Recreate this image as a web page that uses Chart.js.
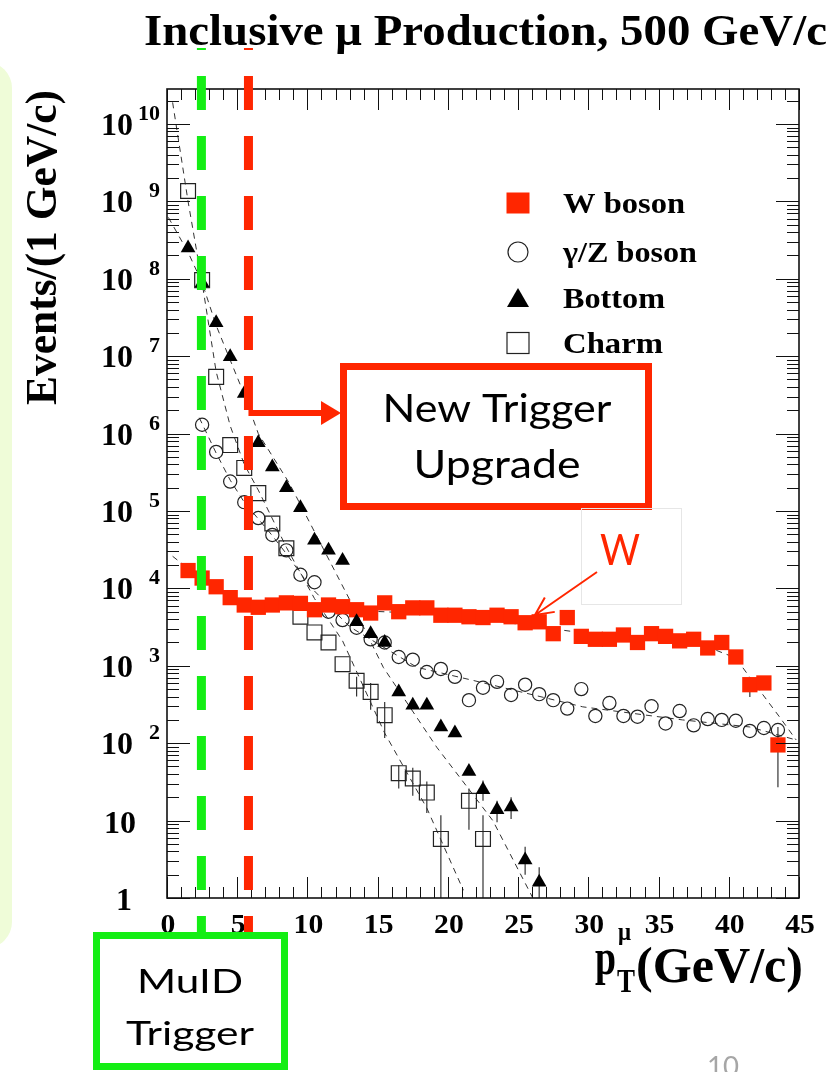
<!DOCTYPE html>
<html>
<head>
<meta charset="utf-8">
<script src="https://cdn.jsdelivr.net/npm/chart.js@4.4.1/dist/chart.umd.min.js"></script>
<style>
  html, body { margin: 0; padding: 0; background: #fff; }
  #wrap { width: 831px; height: 1072px; }
</style>
</head>
<body>
<div id="wrap"><canvas id="muChart" width="831" height="1072"></canvas></div>
<script>
// pT bin centres (GeV/c), 1 GeV bins
const ptBins = [1.5, 2.5, 3.5, 4.5, 5.5, 6.5, 7.5, 8.5, 9.5, 10.5,
                11.5, 12.5, 13.5, 14.5, 15.5, 16.5, 17.5, 18.5, 19.5, 20.5,
                21.5, 22.5, 23.5, 24.5, 25.5, 26.5, 27.5, 28.5, 29.5, 30.5,
                31.5, 32.5, 33.5, 34.5, 35.5, 36.5, 37.5, 38.5, 39.5, 40.5,
                41.5, 42.5, 43.5];

// events / (1 GeV/c)
const wBoson = [1.7e4, 1.36e4, 1.05e4, 7.6e3, 6.1e3, 5.7e3, 6.1e3, 6.5e3, 6.4e3, 5.3e3,
                6.1e3, 5.8e3, 5.3e3, 4.8e3, 6.5e3, 5.0e3, 5.6e3, 5.6e3, 4.5e3, 4.5e3,
                4.3e3, 4.2e3, 4.5e3, 4.3e3, 3.6e3, 3.7e3, 2.6e3, 4.2e3, 2.4e3, 2.2e3,
                2.2e3, 2.5e3, 2.0e3, 2.6e3, 2.4e3, 2.1e3, 2.2e3, 1.7e3, 2.0e3, 1.3e3,
                570, 600, 95];
const gzBoson = [null, 1.3e6, 5.8e5, 2.4e5, 1.3e5, 8.1e4, 4.9e4, 3.1e4, 1.5e4, 1.2e4,
                 5.0e3, 3.9e3, 3.1e3, 2.2e3, 2.0e3, 1.3e3, 1.2e3, 830, 910, 720,
                 360, 520, 620, 420, 570, 430, 360, 280, 500, 225,
                 330, 225, 220, 300, 180, 260, 170, 205, 200, 195,
                 144, 157, 148];
const bottom = [2.5e8, 8.9e7, 2.7e7, 9.8e6, 3.3e6, 7.6e5, 3.7e5, 2.0e5, 1.1e5, 4.2e4,
                3.1e4, 2.3e4, 3.7e3, 2.6e3, 2.0e3, 460, 310, 310, 162, 135,
                43, 25, 13.8, 15, 3.1, 1.6];
const charm = [1.36e9, 9.6e7, 5.4e6, 7.1e5, 3.6e5, 1.7e5, 6.9e4, 3.3e4, 4.3e3, 2.7e3,
               2.0e3, 1.05e3, 640, 460, 230, 41, 35, 23, 5.8, null,
               18, 5.8];

// error bars (only the visible ones)
const charmErrX  = [13.5, 14.5, 15.5, 16.5, 17.5, 18.5, 19.5, 21.5, 22.5];
const charmErrLo = [400, 270, 117, 26, 21, 12.5, 1, 7.6, 1];
const charmErrHi = [720, 600, 340, 52, 48, 32, 11.7, 26, 11.7];
const bottomErrX  = [22.5, 23.5, 24.5, 25.5, 26.5];
const bottomErrLo = [18, 9.5, 10.5, 2, 1];
const bottomErrHi = [33, 18, 20, 4.6, 2.5];
const wErrX  = [41.5, 43.5];
const wErrLo = [395, 27];
const wErrHi = [570, 162];

// dashed fit curves
const fitCharmX = [0.4, 1.5, 2.5, 3.5, 4.5, 5.5, 6.5, 8.5, 10.5, 12.5, 15.5, 18.5, 21.1];
const fitCharmY = [1.9e10, 1.0e9, 8.9e7, 6.3e6, 1.26e6, 4e5, 1.86e5, 3.4e4, 7.4e3, 2.1e3, 135, 14.5, 1.26];
const fitBottomX = [0.1, 1.5, 2.5, 3.5, 4.5, 5.5, 6.5, 8.7, 10.5, 13.5, 15.4, 19.2, 23.2, 26.05];
const fitBottomY = [6.2e8, 2.2e8, 8.9e7, 2.5e7, 8.9e6, 3.2e6, 1e6, 2.3e5, 5.4e4, 4.8e3, 955, 89, 10, 1];
const fitGzX = [2.3, 3.5, 4.5, 5.5, 6.5, 7.5, 8.5, 10.2, 13, 17.8, 21.6, 29.6, 36.7, 41.5, 44.8];
const fitGzY = [1.6e6, 5.6e5, 2.5e5, 1.3e5, 7.9e4, 4.8e4, 2.8e4, 1.05e4, 3.2e3, 955, 660, 295, 200, 162, 110];
const fitWX = [0.4, 2.5, 5.5, 10, 20, 30, 38, 40.5, 41.5, 43.6, 44.8];
const fitWY = [2.6e4, 1.3e4, 6.6e3, 5.5e3, 4.6e3, 2.6e3, 1.9e3, 1.26e3, 710, 220, 110];

// axis ticks
const xTickValues = [0, 5, 10, 15, 20, 25, 30, 35, 40, 45];
const yTickPowers = [0, 1, 2, 3, 4, 5, 6, 7, 8, 9, 10];

// trigger thresholds (GeV/c) drawn as dashed lines
const muidCut = 2.45;
const upgradeCut = 5.8;

const RED = '#ff2600';
const GREEN = '#14ee14';
const SERIF = '"Liberation Serif", "DejaVu Serif", serif';
const SANS = 'Lato, "Open Sans", sans-serif';

function toPoints(xs, ys) {
    return ys.map((y, i) => ({ x: xs[i], y: y })).filter(p => p.y != null);
}

// draw text squeezed/stretched to a given width
function fitText(ctx, text, x, y, width, align) {
    const w = ctx.measureText(text).width;
    ctx.save();
    ctx.translate(x, y);
    ctx.scale(width / w, 1);
    ctx.textAlign = align || 'left';
    ctx.fillText(text, 0, 0);
    ctx.restore();
}

function fitLine(label, xs, ys) {
    return {
        label: label, data: toPoints(xs, ys), showLine: true, pointRadius: 0,
        borderColor: '#333', borderWidth: 1, borderDash: [6, 5], order: 5
    };
}

// pale slide decoration on the left
const slideBackground = {
    id: 'slideBackground',
    beforeDraw(chart) {
        const ctx = chart.ctx;
        ctx.save();
        ctx.fillStyle = '#fff';
        ctx.fillRect(0, 0, chart.width, chart.height);
        ctx.fillStyle = '#effcd8';
        ctx.beginPath();
        ctx.roundRect(-40, 62, 52, 886, 30);
        ctx.fill();
        ctx.restore();
    }
};

// vertical error bars
const errorBars = {
    id: 'errorBars',
    beforeDatasetsDraw(chart) {
        const { ctx, scales: { x, y }, chartArea: a } = chart;
        ctx.save();
        ctx.beginPath();
        ctx.rect(a.left, a.top, a.right - a.left, a.bottom - a.top);
        ctx.clip();
        ctx.lineWidth = 1.2;
        const bars = (xs, lo, hi, color) => {
            ctx.strokeStyle = color;
            xs.forEach((v, i) => {
                const px = x.getPixelForValue(v);
                ctx.beginPath();
                ctx.moveTo(px, y.getPixelForValue(lo[i]));
                ctx.lineTo(px, y.getPixelForValue(hi[i]));
                ctx.stroke();
            });
        };
        bars(charmErrX, charmErrLo, charmErrHi, '#333');
        bars(bottomErrX, bottomErrLo, bottomErrHi, '#333');
        bars(wErrX, wErrLo, wErrHi, '#333');
        ctx.restore();
    }
};

// ROOT style frame with inward ticks on all four sides
const rootFrame = {
    id: 'rootFrame',
    afterDatasetsDraw(chart) {
        const { ctx, scales: { x, y }, chartArea: a } = chart;
        ctx.save();
        ctx.strokeStyle = '#111';
        ctx.lineWidth = 1;
        const seg = (x1, y1, x2, y2) => { ctx.beginPath(); ctx.moveTo(x1, y1); ctx.lineTo(x2, y2); ctx.stroke(); };

        for (let v = x.min; v <= x.max; v++) {
            const px = Math.round(x.getPixelForValue(v)) + 0.5;
            const len = v % 5 === 0 ? 21 : 11;
            seg(px, a.bottom, px, a.bottom - len);
            seg(px, a.top, px, a.top + len);
        }
        yTickPowers.forEach(p => {
            for (let m = 1; m <= 9; m++) {
                const v = m * Math.pow(10, p);
                if (v > y.max) break;
                const py = Math.round(y.getPixelForValue(v)) + 0.5;
                const len = m === 1 ? 23 : 12;
                seg(a.left, py, a.left + len, py);
                seg(a.right, py, a.right - len, py);
            }
        });
        ctx.lineWidth = 1.6;
        ctx.strokeRect(a.left, a.top, a.right - a.left, a.bottom - a.top);

        // tick labels
        ctx.fillStyle = '#000';
        xTickValues.forEach(v => {
            const t = String(v);
            ctx.font = 'bold 28px ' + SERIF;
            const w = ctx.measureText(t).width * 1.06;
            fitText(ctx, t, x.getPixelForValue(v) + 1, 933, w, 'center');
        });
        yTickPowers.forEach(p => {
            const py = y.getPixelForValue(Math.pow(10, p));
            ctx.font = 'bold 32px ' + SERIF;
            ctx.textAlign = 'right';
            if (p === 0) {
                ctx.fillText('1', 132, py + 12);
            } else if (p === 1) {
                ctx.fillText('10', 136, py + 12);
            } else {
                ctx.fillText('10', 133, py + 11);
                ctx.font = 'bold 22px ' + SERIF;
                ctx.fillText(String(p), 160, py - 4);
            }
        });
        ctx.restore();
    }
};

// titles, legend and slide annotations
const overlay = {
    id: 'overlay',
    afterDraw(chart) {
        const { ctx, scales: { x, y }, chartArea: a } = chart;
        const ds = chart.data.datasets;
        ctx.save();
        ctx.fillStyle = '#000';
        ctx.textBaseline = 'alphabetic';

        // title
        ctx.font = 'bold 45px ' + SERIF;
        fitText(ctx, 'Inclusive \u03bc Production, 500 GeV/c', 144, 45, 683, 'left');

        // y axis title
        ctx.save();
        ctx.translate(56, 405);
        ctx.rotate(-Math.PI / 2);
        ctx.font = 'bold 44px ' + SERIF;
        fitText(ctx, 'Events/(1 GeV/c)', 0, 0, 315, 'left');
        ctx.restore();

        // x axis title
        ctx.font = 'bold 50px ' + SERIF;
        fitText(ctx, 'p', 595, 974, 21, 'left');
        ctx.font = 'bold 25px ' + SERIF;
        fitText(ctx, '\u03bc', 618, 940, 13, 'left');
        ctx.font = 'bold 34px ' + SERIF;
        fitText(ctx, 'T', 617, 992, 18, 'left');
        ctx.font = 'bold 50px ' + SERIF;
        fitText(ctx, '(GeV/c)', 636, 982, 167, 'left');

        // legend
        const rows = [203, 252, 298, 343];
        const widths = [122, 134, 102, 100];
        const lx = 518;
        ctx.fillStyle = RED;
        ctx.fillRect(lx - 11.5, rows[0] - 10.5, 23, 21);
        ctx.strokeStyle = '#222';
        ctx.lineWidth = 1.2;
        ctx.beginPath();
        ctx.arc(lx, rows[1], 10, 0, Math.PI * 2);
        ctx.stroke();
        ctx.fillStyle = '#000';
        ctx.beginPath();
        ctx.moveTo(lx, rows[2] - 10);
        ctx.lineTo(lx + 11, rows[2] + 9);
        ctx.lineTo(lx - 11, rows[2] + 9);
        ctx.closePath();
        ctx.fill();
        ctx.strokeRect(lx - 11, rows[3] - 10.5, 22, 21);
        ctx.font = 'bold 30px ' + SERIF;
        for (let i = 0; i < 4; i++) {
            fitText(ctx, ds[i].label, 563, rows[i] + 10, widths[i], 'left');
        }

        // trigger threshold lines
        ctx.lineWidth = 9;
        ctx.setLineDash([34, 26]);
        ctx.lineDashOffset = 32;
        [[muidCut, GREEN], [upgradeCut, RED]].forEach(([v, c]) => {
            const px = x.getPixelForValue(v);
            ctx.strokeStyle = c;
            ctx.beginPath();
            ctx.moveTo(px, 48);
            ctx.lineTo(px, 935);
            ctx.stroke();
        });
        ctx.setLineDash([]);

        // arrow to the upgrade box
        const ux = x.getPixelForValue(upgradeCut);
        ctx.strokeStyle = RED;
        ctx.fillStyle = RED;
        ctx.lineWidth = 6;
        ctx.beginPath();
        ctx.moveTo(ux, 413);
        ctx.lineTo(324, 413);
        ctx.stroke();
        ctx.beginPath();
        ctx.moveTo(321, 401);
        ctx.lineTo(341, 413);
        ctx.lineTo(321, 425);
        ctx.closePath();
        ctx.fill();

        // "New Trigger Upgrade" box
        ctx.fillStyle = '#fff';
        ctx.fillRect(340, 363, 312, 147);
        ctx.lineWidth = 7;
        ctx.strokeRect(343.5, 366.5, 305, 140);
        ctx.fillStyle = '#000';
        ctx.font = '38px ' + SANS;
        fitText(ctx, 'New Trigger', 497, 422, 229, 'center');
        fitText(ctx, 'Upgrade', 497, 478, 167, 'center');

        // "W" label with faint frame and arrow
        ctx.strokeStyle = '#e6e6e6';
        ctx.lineWidth = 1;
        ctx.strokeRect(581.5, 508.5, 100, 96);
        ctx.fillStyle = RED;
        ctx.font = '42px ' + SANS;
        fitText(ctx, 'W', 620, 565, 40, 'center');
        ctx.strokeStyle = RED;
        ctx.lineWidth = 2;
        const tipX = 535, tipY = 615, sx = 597, sy = 572;
        const ang = Math.atan2(tipY - sy, tipX - sx);
        ctx.beginPath();
        ctx.moveTo(sx, sy);
        ctx.lineTo(tipX, tipY);
        ctx.moveTo(tipX - 20 * Math.cos(ang - 0.45), tipY - 20 * Math.sin(ang - 0.45));
        ctx.lineTo(tipX, tipY);
        ctx.lineTo(tipX - 20 * Math.cos(ang + 0.45), tipY - 20 * Math.sin(ang + 0.45));
        ctx.stroke();

        // "MuID Trigger" box
        ctx.fillStyle = '#fff';
        ctx.fillRect(93, 932, 195, 140);
        ctx.strokeStyle = GREEN;
        ctx.lineWidth = 7;
        ctx.strokeRect(96.5, 935.5, 188, 131);
        ctx.fillStyle = '#000';
        ctx.font = '33px ' + SANS;
        fitText(ctx, 'MuID', 190, 993, 106, 'center');
        fitText(ctx, 'Trigger', 190, 1045, 128, 'center');

        // slide number
        ctx.fillStyle = '#a6a6a6';
        ctx.font = '27px ' + SANS;
        fitText(ctx, '10', 707, 1076, 32, 'left');
        ctx.restore();
    }
};

const ctx = document.getElementById('muChart').getContext('2d');
const muChart = new Chart(ctx, {
    type: 'scatter',
    data: {
        datasets: [
            {
                label: 'W boson', data: toPoints(ptBins, wBoson),
                pointStyle: 'rect', pointRadius: 10.8, borderWidth: 0,
                backgroundColor: RED, borderColor: RED, order: 1
            },
            {
                label: '\u03b3/Z boson', data: toPoints(ptBins, gzBoson),
                pointStyle: 'circle', pointRadius: 6.6, borderWidth: 1.2,
                backgroundColor: 'rgba(0,0,0,0)', borderColor: '#222', order: 2
            },
            {
                label: 'Bottom', data: toPoints(ptBins, bottom),
                pointStyle: 'triangle', pointRadius: 8.5, borderWidth: 0,
                backgroundColor: '#000', borderColor: '#000', order: 0
            },
            {
                label: 'Charm', data: toPoints(ptBins, charm),
                pointStyle: 'rect', pointRadius: 10.5, borderWidth: 1.2,
                backgroundColor: 'rgba(0,0,0,0)', borderColor: '#222', order: 3
            },
            fitLine('W fit', fitWX, fitWY),
            fitLine('gamma/Z fit', fitGzX, fitGzY),
            fitLine('Bottom fit', fitBottomX, fitBottomY),
            fitLine('Charm fit', fitCharmX, fitCharmY)
        ]
    },
    options: {
        responsive: false,
        animation: false,
        devicePixelRatio: 1,
        layout: { padding: { left: 167, right: 32, top: 89, bottom: 174 } },
        plugins: {
            legend: { display: false },
            tooltip: { enabled: false }
        },
        scales: {
            x: { type: 'linear', min: 0, max: 45, display: false },
            y: { type: 'logarithmic', min: 1, max: 2.83e10, display: false }
        }
    },
    plugins: [slideBackground, errorBars, rootFrame, overlay]
});
</script>
</body>
</html>
